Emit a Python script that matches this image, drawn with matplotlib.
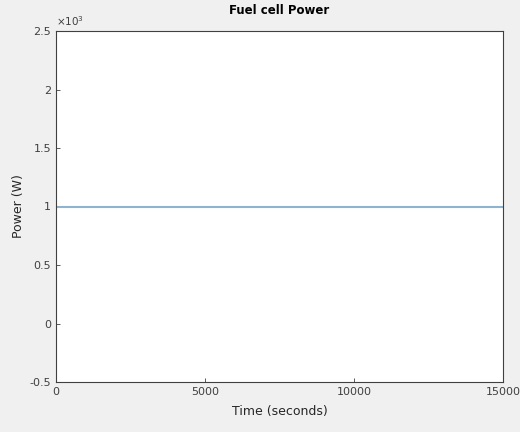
import matplotlib.pyplot as plt
from matplotlib.ticker import FuncFormatter

# fuel cell power (W) vs time (s)
time_s = [0, 15000]
power_w = [1000, 1000]

fig = plt.figure(figsize=(5.2, 4.32), dpi=100)
fig.patch.set_facecolor('#f0f0f0')
ax = fig.add_axes([56/520, 1 - 382/432, (503-56)/520, (382-31)/432])
ax.set_facecolor('white')

ax.plot(time_s, power_w, color='#8db3d1', linewidth=1.5)

ax.set_xlim(0, 15000)
ax.set_ylim(-500, 2500)
ax.set_xticks([0, 5000, 10000, 15000])
ax.set_yticks([-500, 0, 500, 1000, 1500, 2000, 2500])
ax.yaxis.set_major_formatter(FuncFormatter(lambda v, p: '%g' % (v / 1000)))
ax.tick_params(direction='in', length=3, labelsize=8, colors='#404040', width=0.6)
for s in ax.spines.values():
    s.set_color('#404040')
    s.set_linewidth(0.8)

ax.text(0.0, 1.008, r'$\times10^3$', transform=ax.transAxes, fontsize=7.5,
        color='#404040', ha='left', va='bottom')
ax.set_title('Fuel cell Power', fontsize=8.5, fontweight='bold', pad=12.5)
ax.set_xlabel('Time (seconds)', fontsize=9, color='#262626', labelpad=6)
ax.set_ylabel('Power (W)', fontsize=9, color='#262626', labelpad=3)

plt.savefig('out.png', dpi=100, facecolor=fig.get_facecolor())
